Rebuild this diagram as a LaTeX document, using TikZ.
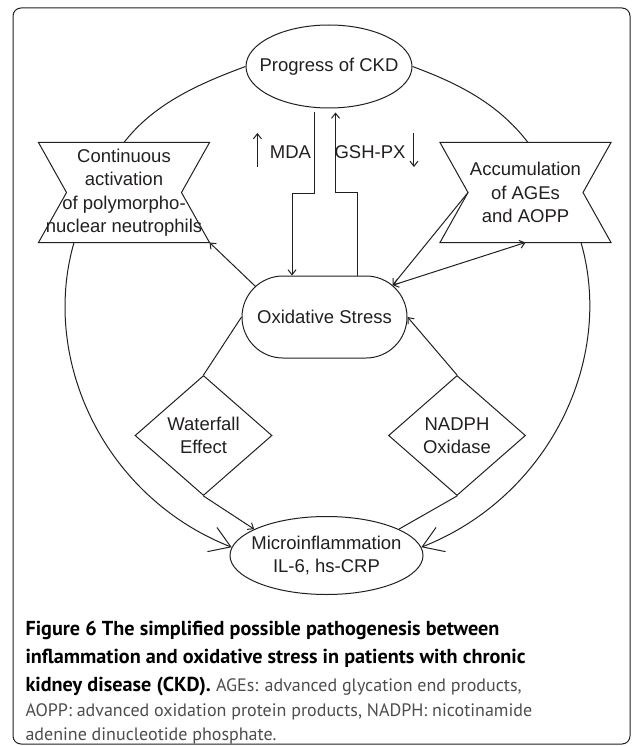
\documentclass[tikz,border=0pt]{standalone}
\usepackage{fontspec}
\setmainfont{Liberation Sans}
\newfontfamily\capfont{PT Sans}
\usetikzlibrary{shapes.geometric,shapes.misc,arrows.meta}

\definecolor{ink}{HTML}{231F20}
\definecolor{captext}{HTML}{4D4D4D}

\begin{document}
\begin{tikzpicture}[x=1pt, y=-1pt, line width=1pt, color=ink,
    txt/.style = {font=\fontsize{18.5}{23.5}\selectfont, align=center},
    oval/.style = {draw, ellipse, txt, inner xsep=-15pt, inner ysep=0pt},
    stadium/.style = {draw, rounded rectangle, txt, inner sep=0pt, minimum width=165pt, minimum height=82pt},
    hourglass/.style = {txt, inner sep=0pt, minimum width=170pt, minimum height=99pt},
    rhomb/.style = {draw, diamond, txt, aspect=1.13, inner sep=0pt, minimum width=137pt, minimum height=120pt},
    arr/.style = {-{Straight Barb[length=5pt, width=8pt]}},
    dblarr/.style = {{Straight Barb[length=5pt, width=8pt]}-{Straight Barb[length=5pt, width=8pt]}},
    bigarr/.style = {-{Straight Barb[length=20pt, width=26pt]}},
    capbold/.style = {font=\capfont\bfseries\fontsize{20.2}{28}\selectfont, anchor=base west, inner sep=0pt, text=black},
    capreg/.style = {font=\capfont\fontsize{18}{26}\selectfont, anchor=base west, inner sep=0pt, text=captext}]
    \useasboundingbox (0,0) rectangle (632,746);
    \draw[rounded corners=8pt] (13,8) rectangle (630,744);

    % nodes
    \node[oval, minimum width=166pt, minimum height=83pt] (prog) at (329,66.5) {Progress of CKD};
    \node[stadium] (oxs) at (324.5,317) {\makebox[83pt]{Oxidative Stress}};
    \node[oval, minimum width=193pt, minimum height=78pt] (micro) at (326.5,555.5) {Microinflammation\\IL-6, hs-CRP};
    \node[hourglass] (cont) at (124,192.5) {Continuous\\activation\\of polymorpho-\\nuclear neutrophils};
    \node[hourglass] (accu) at (525.5,192.5) {Accumulation\\of AGEs\\and AOPP};
    \node[rhomb] (fall) at (203.5,435.5) {Waterfall\\Effect};
    \node[rhomb] (nadph) at (457,435.5) {NADPH\\Oxidase};
    \node[txt, inner sep=0pt] (mda) at (290.5,152) {MDA};
    \node[txt, inner sep=0pt] (gsh) at (370,152) {GSH-PX};

    \foreach \n in {cont, accu}
        \draw (\n.north west) -- (\n.north east) -- ([xshift=-28pt]\n.east) -- (\n.south east)
            -- (\n.south west) -- ([xshift=28pt]\n.west) -- cycle;

    % the outer loop
    \draw (prog.west) .. controls +(-46,17) and +(30,-39) .. (cont.north);
    \draw (prog.east) .. controls +(46,17) and +(-30,-39) .. ([xshift=2.5pt]accu.north);
    \draw[bigarr] ([xshift=-50pt]cont.south) .. controls +(-34,118) and +(-127,-50) .. (micro.175);
    \draw[bigarr] ([xshift=55.5pt]accu.south) .. controls +(34,118) and +(127,-50) .. (micro.5);

    % connectors
    \draw[arr] ([xshift=-15pt, yshift=-4pt]prog.south) -- ++(0,81) -| ([xshift=-32.5pt]oxs.north);
    \draw[arr] ([xshift=33pt]oxs.north) -- ++(0,-83) -| ([xshift=6.5pt, yshift=-4pt]prog.south);
    \draw[arr] ([xshift=-12pt, yshift=-15pt]mda.west) -- ++(0,-34);
    \draw[arr] ([xshift=8pt, yshift=19pt]gsh.east) -- ++(0,34);
    \draw[arr] (oxs.156) -- (cont.south east);
    \draw[arr] ([xshift=28pt]accu.west) -- (oxs.25);
    \draw[dblarr] (oxs.25) -- (accu.south);
    \draw (oxs.west) -- (fall.north);
    \draw[arr] (fall.south) -- (micro.160);
    \draw[arr] (nadph.north) -- (oxs.east);
    \draw (micro.20) -- (nadph.south);

    % caption
    \node[capbold] (cap1) at (25,635) {Figure 6 The simplified possible pathogenesis between};
    \node[capbold] (cap2) at (25,663) {inflammation and oxidative stress in patients with chronic};
    \node[capbold] (cap3) at (25,691) {kidney disease (CKD). {\mdseries\fontsize{18}{26}\selectfont\color{captext}AGEs: advanced glycation end products,}};
    \node[capreg] (cap4) at (25,716) {AOPP: advanced oxidation protein products, NADPH: nicotinamide};
    \node[capreg] (cap5) at (25,740) {adenine dinucleotide phosphate.};
\end{tikzpicture}
\end{document}
